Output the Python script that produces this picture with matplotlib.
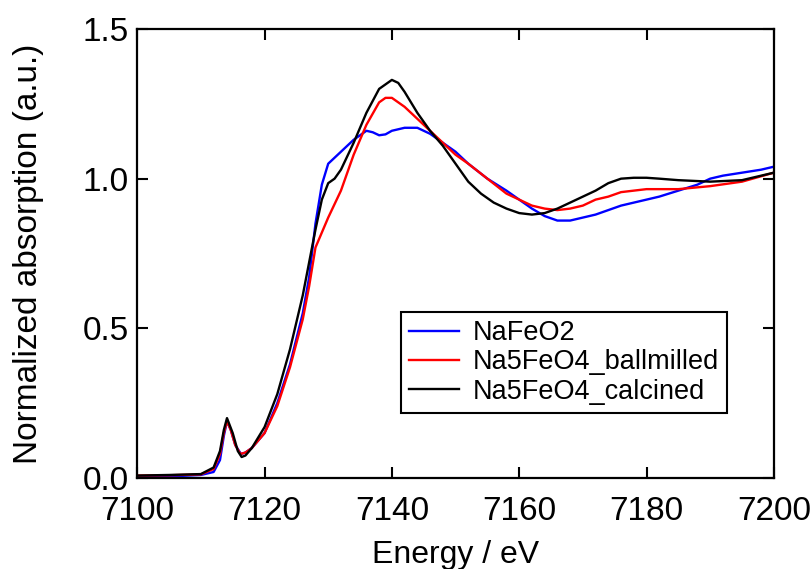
import matplotlib
matplotlib.use("Agg")
import matplotlib.pyplot as plt

plt.rcParams['font.family'] = ['Liberation Sans', 'DejaVu Sans']

# data (Fe K-edge XANES)
e_nafeo2 = [7100, 7105, 7110, 7112, 7113, 7113.6, 7114.1, 7114.7, 7115.4, 7116.3, 7117, 7118, 7120, 7122,
            7124, 7126, 7127, 7128, 7129, 7130, 7132, 7134, 7136, 7137, 7138, 7139, 7140, 7142,
            7144, 7146, 7148, 7150, 7152, 7155, 7158, 7160, 7162, 7164, 7166, 7168, 7170,
            7172, 7174, 7176, 7178, 7180, 7182, 7185, 7188, 7190, 7192, 7195, 7198, 7200]
nafeo2 = [0.003, 0.005, 0.01, 0.02, 0.06, 0.14, 0.19, 0.16, 0.11, 0.08, 0.085, 0.1, 0.15, 0.25,
          0.38, 0.55, 0.67, 0.85, 0.98, 1.05, 1.09, 1.13, 1.16, 1.155, 1.145, 1.148, 1.16, 1.17,
          1.17, 1.15, 1.12, 1.09, 1.05, 1.0, 0.96, 0.93, 0.9, 0.875, 0.86, 0.86, 0.87,
          0.88, 0.895, 0.91, 0.92, 0.93, 0.94, 0.96, 0.98, 1.0, 1.01, 1.02, 1.03, 1.04]

e_ball = [7100, 7105, 7110, 7112, 7113, 7113.6, 7114.1, 7114.7, 7115.4, 7116.2, 7117, 7118, 7120, 7122,
          7124, 7126, 7127, 7128, 7130, 7132, 7134, 7136, 7138, 7139, 7140, 7142,
          7144, 7146, 7148, 7150, 7152, 7155, 7158, 7160, 7162, 7164, 7166, 7168, 7170,
          7172, 7174, 7176, 7178, 7180, 7185, 7190, 7195, 7200]
ballmilled = [0.008, 0.009, 0.012, 0.03, 0.08, 0.15, 0.19, 0.16, 0.11, 0.08, 0.085, 0.1, 0.15, 0.24,
              0.37, 0.53, 0.64, 0.77, 0.87, 0.96, 1.08, 1.18, 1.255, 1.27, 1.27, 1.24,
              1.2, 1.16, 1.12, 1.08, 1.05, 1.0, 0.95, 0.93, 0.91, 0.9, 0.895, 0.9, 0.91,
              0.93, 0.94, 0.955, 0.96, 0.965, 0.965, 0.975, 0.99, 1.02]

e_calc = [7100, 7105, 7110, 7112, 7113, 7113.6, 7114.1, 7115, 7115.8, 7116.4, 7117, 7118, 7120, 7122,
          7124, 7126, 7128, 7129, 7130, 7131, 7132, 7134, 7136, 7138, 7140, 7141, 7142,
          7144, 7146, 7148, 7150, 7152, 7154, 7156, 7158, 7160, 7162, 7164, 7166, 7168,
          7170, 7172, 7174, 7176, 7178, 7180, 7182, 7185, 7190, 7195, 7198, 7200]
calcined = [0.008, 0.01, 0.013, 0.035, 0.09, 0.16, 0.2, 0.15, 0.09, 0.07, 0.075, 0.1, 0.17, 0.28,
            0.43, 0.61, 0.83, 0.93, 0.985, 1.0, 1.03, 1.12, 1.22, 1.3, 1.33, 1.32, 1.29,
            1.22, 1.16, 1.11, 1.05, 0.99, 0.95, 0.92, 0.9, 0.885, 0.88, 0.885, 0.9, 0.92,
            0.94, 0.96, 0.985, 1.0, 1.003, 1.003, 1.0, 0.995, 0.99, 0.995, 1.01, 1.02]

labels = ['NaFeO2', 'Na5FeO4_ballmilled', 'Na5FeO4_calcined']

fig = plt.figure(figsize=(8.12, 5.69), dpi=100)
ax = fig.add_axes([0.169, 0.160, 0.784, 0.789])

ax.plot(e_nafeo2, nafeo2, color='#0000ff', lw=1.7, label=labels[0])
ax.plot(e_ball, ballmilled, color='#ff0000', lw=1.7, label=labels[1])
ax.plot(e_calc, calcined, color='k', lw=1.7, label=labels[2])

ax.set_xlim(7100, 7200)
ax.set_ylim(0, 1.5)
ax.set_xticks([7100, 7120, 7140, 7160, 7180, 7200])
ax.set_yticks([0.0, 0.5, 1.0, 1.5])
ax.set_yticklabels(['0.0', '0.5', '1.0', '1.5'])
ax.tick_params(direction='in', top=True, right=True, length=8, width=1.5, labelsize=24)
ax.tick_params(axis='x', pad=13)
ax.tick_params(axis='y', pad=6)
for s in ax.spines.values():
    s.set_linewidth(1.6)

ax.set_xlabel('Energy / eV', fontsize=23, labelpad=9)
ax.set_ylabel('Normalized absorption (a.u.)', fontsize=24, labelpad=28)

leg = ax.legend(loc='lower right', bbox_to_anchor=(0.926, 0.145), borderaxespad=0, fontsize=19.5,
                fancybox=False, edgecolor='k', framealpha=1, handlelength=1.85, borderpad=0.3,
                labelspacing=0.12, handletextpad=0.5)
leg.get_frame().set_linewidth(1.5)

fig.savefig('out.png', dpi=100)
